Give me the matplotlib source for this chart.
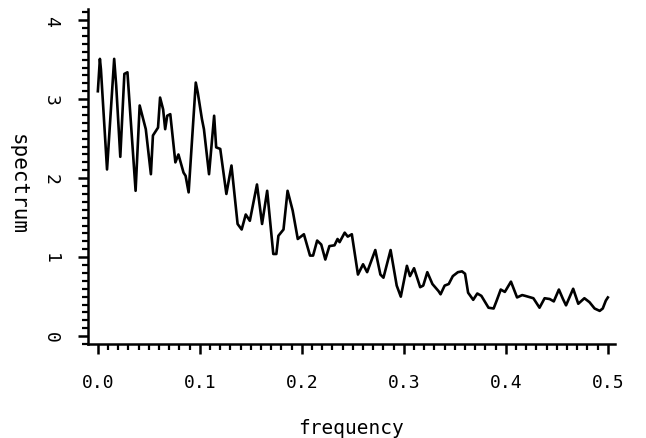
import numpy as np
import matplotlib
matplotlib.use("Agg")
import matplotlib.pyplot as plt
from matplotlib.ticker import MultipleLocator

# values
freq = [0.000, 0.002, 0.003, 0.009, 0.016, 0.018, 0.022, 0.026, 0.029, 0.037,
        0.041, 0.047, 0.052, 0.054, 0.059, 0.061, 0.064, 0.066, 0.068, 0.071,
        0.076, 0.079, 0.084, 0.086, 0.089, 0.096, 0.098, 0.102, 0.104, 0.109,
        0.114, 0.116, 0.120, 0.126, 0.131, 0.137, 0.141, 0.145, 0.149, 0.156,
        0.161, 0.166, 0.172, 0.175, 0.177, 0.182, 0.186, 0.191, 0.196, 0.202,
        0.208, 0.211, 0.215, 0.219, 0.223, 0.227, 0.232, 0.235, 0.237, 0.242,
        0.245, 0.249, 0.255, 0.260, 0.264, 0.272, 0.277, 0.280, 0.287, 0.293,
        0.297, 0.303, 0.306, 0.310, 0.316, 0.319, 0.323, 0.328, 0.334, 0.336,
        0.340, 0.344, 0.348, 0.353, 0.357, 0.360, 0.363, 0.368, 0.372, 0.376,
        0.383, 0.388, 0.391, 0.395, 0.399, 0.405, 0.411, 0.416, 0.419, 0.427,
        0.433, 0.438, 0.443, 0.447, 0.452, 0.456, 0.459, 0.466, 0.471, 0.477,
        0.482, 0.487, 0.492, 0.495, 0.498, 0.500]
spectrum = [3.10, 3.51, 3.38, 2.11, 3.51, 3.17, 2.27, 3.32, 3.34, 1.84,
            2.92, 2.62, 2.05, 2.54, 2.64, 3.02, 2.87, 2.62, 2.79, 2.81,
            2.20, 2.30, 2.07, 2.03, 1.82, 3.21, 3.08, 2.75, 2.62, 2.05,
            2.79, 2.39, 2.37, 1.80, 2.16, 1.42, 1.35, 1.54, 1.46, 1.92,
            1.42, 1.84, 1.04, 1.04, 1.27, 1.35, 1.84, 1.59, 1.23, 1.29,
            1.02, 1.02, 1.21, 1.16, 0.97, 1.14, 1.15, 1.23, 1.19, 1.31,
            1.26, 1.29, 0.78, 0.91, 0.81, 1.09, 0.78, 0.74, 1.09, 0.64,
            0.50, 0.89, 0.76, 0.86, 0.62, 0.64, 0.81, 0.66, 0.57, 0.53,
            0.64, 0.66, 0.76, 0.81, 0.82, 0.79, 0.55, 0.46, 0.54, 0.51,
            0.36, 0.35, 0.45, 0.59, 0.56, 0.69, 0.49, 0.52, 0.51, 0.48,
            0.36, 0.48, 0.47, 0.44, 0.59, 0.47, 0.39, 0.60, 0.41, 0.48,
            0.43, 0.35, 0.32, 0.35, 0.45, 0.49]

x_ticks = [0.0, 0.1, 0.2, 0.3, 0.4, 0.5]
x_labels = ["0.0", "0.1", "0.2", "0.3", "0.4", "0.5"]
y_ticks = [0, 1, 2, 3, 4]
y_labels = ["0", "1", "2", "3", "4"]

plt.rcParams['font.family'] = ['DejaVu Sans Mono', 'DejaVu Sans']

fig = plt.figure(figsize=(6.46, 4.39), dpi=100)
ax = fig.add_axes([0.136, 0.214, 0.816, 0.763])
ax.plot(freq, spectrum, color='black', linewidth=1.9)

ax.set_xlim(-0.0098, 0.507)
ax.set_ylim(-0.10, 4.14)
ax.spines['top'].set_visible(False)
ax.spines['right'].set_visible(False)
for s in ['left', 'bottom']:
    ax.spines[s].set_linewidth(1.8)

ax.set_xticks(x_ticks)
ax.set_xticklabels(x_labels)
ax.set_yticks(y_ticks)
ax.set_yticklabels(y_labels, rotation=270, va='center')
ax.xaxis.set_minor_locator(MultipleLocator(0.01))
ax.yaxis.set_minor_locator(MultipleLocator(0.1))
ax.tick_params(which='major', direction='out', length=7, width=1.8,
               labelsize=13, pad=14)
ax.tick_params(which='minor', direction='out', length=4, width=1.6)
ax.tick_params(axis='y', which='major', pad=13)

ax.set_xlabel("frequency", fontsize=14, va='center')
ax.xaxis.set_label_coords(0.5, -0.248)
ax.set_ylabel("spectrum", fontsize=15, rotation=270, va='center')
ax.yaxis.set_label_coords(-0.133, 0.48)

plt.savefig("out.png", dpi=100)
